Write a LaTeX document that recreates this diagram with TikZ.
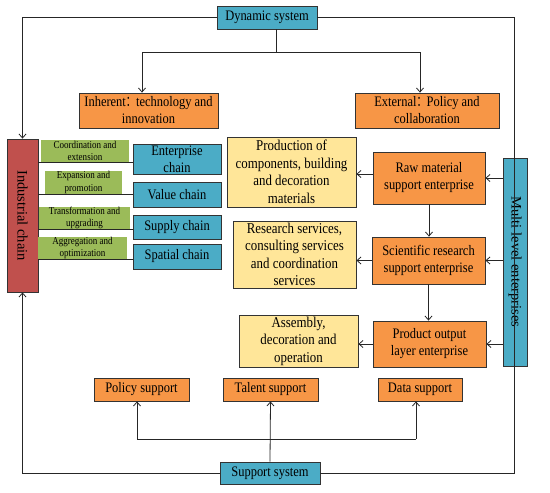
\documentclass[tikz,border=0pt]{standalone}
\usepackage{fontspec}
\setmainfont{Liberation Serif}[FakeStretch=0.86]
\newfontfamily\plainserif{Liberation Serif}
\newfontfamily\cjk{Noto Sans CJK SC}[FakeStretch=0.7]
\usetikzlibrary{arrows.meta}
\definecolor{cblue}{HTML}{4BACC6}
\definecolor{corange}{HTML}{F79646}
\definecolor{cyellow}{HTML}{FFE699}
\definecolor{cgreen}{HTML}{9BBB59}
\definecolor{cred}{HTML}{C0504D}
\newcommand{\fwc}{{\cjk ：}}
\begin{document}
\begin{tikzpicture}[x=1pt,y=-1pt,
  box/.style={draw=black!80,line width=0.8pt,inner sep=1pt,align=center,font=\fontsize{14.5}{17}\selectfont},
  bluebox/.style={box,fill=cblue},
  orangebox/.style={box,fill=corange},
  yellowbox/.style={box,fill=cyellow,font=\fontsize{15}{17.5}\selectfont},
  greenbox/.style={fill=cgreen,inner sep=0pt,align=center,font=\fontsize{10.5}{12.5}\selectfont},
  redbox/.style={box,fill=cred},
  vtext/.style={rotate=-90,font=\plainserif\fontsize{14.5}{17}\selectfont},
  ln/.style={draw=black!85,line width=0.8pt},
  arr/.style={ln,-{Straight Barb[length=4pt,width=7pt]}},
  sz/.style 2 args={minimum width=#1,minimum height=#2}]
\useasboundingbox (0,0) rectangle (550,493);
\fill[white] (0,0) rectangle (550,493);
% top
\node[bluebox,sz={100pt}{23pt}] (dyn) at (267,17.5) {Dynamic system};
\node[orangebox,sz={139pt}{35pt}] (inh) at (148.5,110.5) {Inherent\fwc technology and\\innovation};
\node[orangebox,sz={144pt}{35pt}] (ext) at (427,110.5) {External\fwc Policy and\\collaboration};
% industrial chain
\node[redbox,sz={31pt}{153pt}] (ind) at (22.5,215.5) {};
\node[vtext] (indt) at (ind.center) {Industrial chain};
\node[bluebox,sz={88pt}{30pt}] (ec) at (177,159) {Enterprise\\chain};
\node[bluebox,sz={88pt}{25pt}] (vc) at (177,194.5) {Value chain};
\node[bluebox,sz={88pt}{24pt}] (sc) at (177,227) {Supply chain};
\node[bluebox,sz={88pt}{25pt}] (spc) at (177,256.5) {Spatial chain};
\coordinate (l1) at (38,162);
\coordinate (l2) at (38,194);
\coordinate (l3) at (38,229);
\coordinate (l4) at (38,259);
\draw[ln] (l1) -- (l1 -| ec.west);
\draw[ln] (l2) -- (l2 -| vc.west);
\draw[ln] (l3) -- (l3 -| sc.west);
\draw[ln] (l4) -- (l4 -| spc.west);
\node[greenbox,sz={88pt}{22pt}] (g1) at (85,151) {Coordination and\\extension};
\node[greenbox,sz={77pt}{23pt}] (g2) at (83.5,182.5) {Expansion and\\promotion};
\node[greenbox,sz={91pt}{22pt}] (g3) at (84.5,218) {Transformation and\\upgrading};
\node[greenbox,sz={89pt}{22pt}] (g4) at (82.5,248) {Aggregation and\\optimization};
% middle
\node[yellowbox,sz={129pt}{70pt}] (y1) at (291.5,172) {Production of\\components, building\\and decoration\\materials};
\node[yellowbox,sz={123pt}{67pt}] (y2) at (294.5,254.5) {Research services,\\consulting services\\and coordination\\services};
\node[yellowbox,sz={119pt}{52pt}] (y3) at (298.5,341) {Assembly,\\decoration and\\operation};
\node[orangebox,sz={112pt}{52pt}] (o1) at (429,178) {Raw material\\support enterprise};
\node[orangebox,sz={113pt}{47pt}] (o2) at (428.5,260.5) {Scientific research\\support enterprise};
\node[orangebox,sz={113pt}{46pt}] (o3) at (429.5,344) {Product output\\layer enterprise};
\node[bluebox,sz={24pt}{208pt}] (mle) at (515,262) {};
\node[vtext] (mlet) at (mle.center) {Multi level enterprises};
% bottom
\node[orangebox,sz={95pt}{23pt}] (ps) at (141.5,389.5) {Policy support};
\node[orangebox,sz={95pt}{23pt}] (ts) at (270.5,389.5) {Talent support};
\node[orangebox,sz={84pt}{23pt}] (ds) at (420,389.5) {Data support};
\node[bluebox,sz={100pt}{22pt}] (ss) at (270,473) {Support system};
% connectors top
\coordinate (dj) at (276,52);
\coordinate (dl) at (142,52);
\coordinate (dr) at (420,52);
\draw[ln] (dyn.south -| dj) -- (dj);
\draw[ln] (dl) -- (dr);
\draw[arr] (dl) -- (dl |- inh.north);
\draw[arr] (dr) -- (dr |- ext.north);
% frame
\coordinate (fr) at (514,17.5);
\draw[arr] (dyn.west) -- (dyn.west -| ind.north) -- (ind.north);
\draw[arr] (ss.west) -- (ss.west -| ind.south) -- (ind.south);
\draw[ln] (dyn.east) -- (fr) -- (fr |- ss.east) -- (ss.east);
% middle arrows
\draw[arr] ([yshift=4pt]o1.west) -- ([yshift=4pt]o1.west -| y1.east);
\draw[arr] (o2.west) -- (o2.west -| y2.east);
\draw[arr] (o3.west) -- (o3.west -| y3.east);
\draw[arr] (o1.south) -- (o1.south |- o2.north);
\draw[arr] (o2.south) -- (o2.south |- o3.north);
\draw[arr] (mle.west |- o1.east) -- (o1.east);
\draw[arr] (mle.west |- o2.east) -- (o2.east);
\draw[arr] (mle.west |- o3.east) -- (o3.east);
% bottom arrows
\coordinate (bl) at (137,439);
\coordinate (br) at (416,439);
\draw[arr] (ss.north) -- (ts.south);
\draw[ln] (bl) -- (br);
\draw[arr] (bl) -- (bl |- ps.south);
\draw[arr] (br) -- (br |- ds.south);
\end{tikzpicture}
\end{document}
